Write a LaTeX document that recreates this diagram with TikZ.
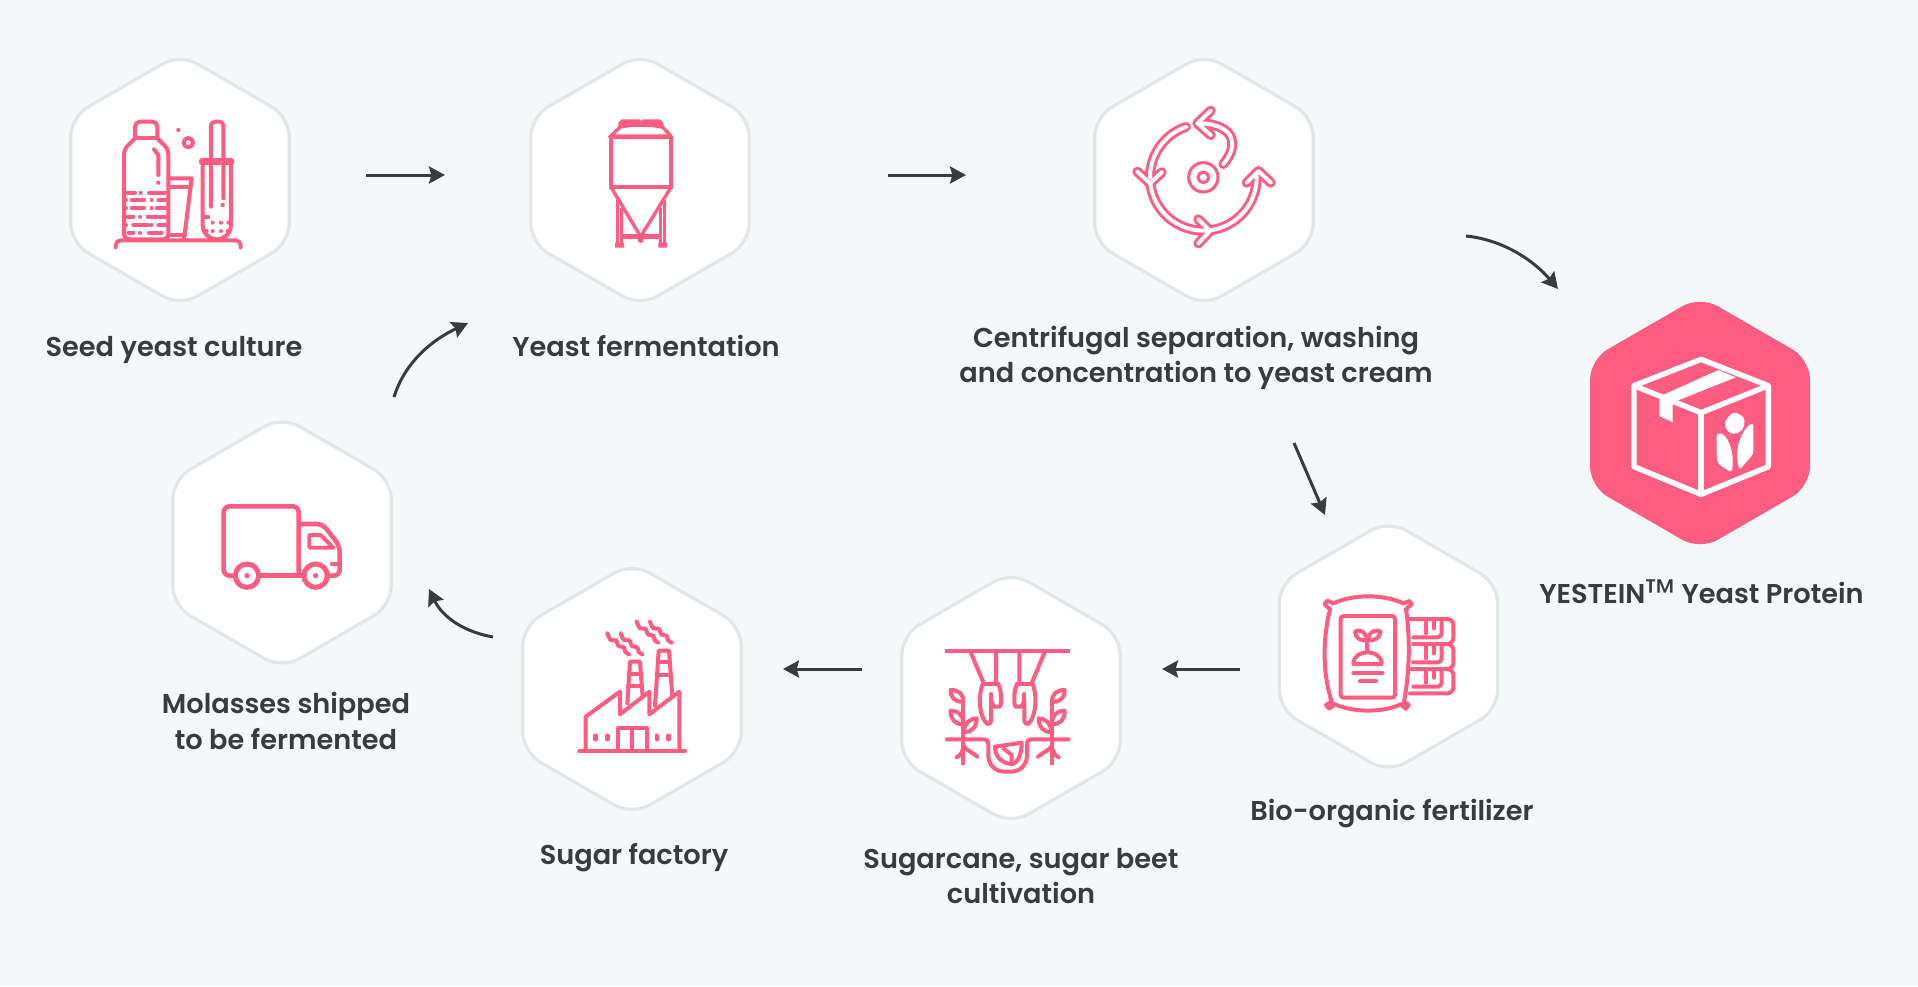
\documentclass[tikz,border=0pt]{standalone}
\usepackage{fontspec}
\setmainfont{Poppins SemiBold}
\newfontfamily\tmfont{Poppins}
\usetikzlibrary{shapes.geometric,arrows.meta}
\definecolor{bgc}{HTML}{F5F8F9}
\definecolor{hexl}{HTML}{E2E6E7}
\definecolor{rosa}{HTML}{FF5C82}
\definecolor{ink}{HTML}{3A3B3D}
\tikzset{
  x=0.5pt,y=-0.5pt,
  hexa/.style={regular polygon,regular polygon sides=6,shape border rotate=30,inner sep=0pt,outer sep=0pt,rounded corners=10pt},
  hexw/.style={hexa,minimum size=126.2pt,draw=hexl,fill=white,line width=1.6pt},
  hexp/.style={hexa,minimum size=127pt,fill=rosa},
  lab/.style={font=\fontsize{13.6pt}{17.6pt}\selectfont,text=ink,align=center,inner sep=0pt},
  flow/.style={draw=ink,line width=1.5pt,-{Stealth[length=8pt,width=8.5pt,inset=1.2pt]}},
  ic/.style={draw=rosa,line width=2pt,line cap=round,line join=round},
  icb/.style={draw=rosa,line width=2pt,line cap=butt,line join=miter},
}
\newcommand{\pdot}[3]{\fill[rosa] (#1,#2) circle (#3);}
\begin{document}
\begin{tikzpicture}
\useasboundingbox (0,0) rectangle (1918,986);
\fill[bgc] (0,0) rectangle (1918,986);
% hexagons
\node[hexw] (h1) at (180,180) {};
\node[hexw] (h2) at (640,180) {};
\node[hexw] (h3) at (1204,180) {};
\node[hexp] (h4) at (1700,423) {};
\node[hexw] (h5) at (1388.5,646.5) {};
\node[hexw] (h6) at (1011,698) {};
\node[hexw] (h7) at (632,689) {};
\node[hexw] (h8) at (282,542.5) {};
% labels
\node[lab] (t1) at (174,349.7) {Seed yeast culture};
\node[lab] (t2) at (646,346) {Yeast fermentation};
\node[lab] (t3) at (1196,357.5) {Centrifugal separation, washing\\and concentration to yeast cream};
\node[lab] (t4) at (1701.5,593) {YESTEIN{\raisebox{-1.4pt}{\tmfont\fontsize{19pt}{19pt}\selectfont ™}} Yeast Protein};
\node[lab] (t5) at (1392,813.7) {Bio-organic fertilizer};
\node[lab] (t6) at (1021,876) {Sugarcane, sugar beet\\cultivation};
\node[lab] (t7) at (634,857.7) {Sugar factory};
\node[lab] (t8) at (286,721) {Molasses shipped\\to be fermented};
% connectors
\coordinate (a1s) at (366,175); \coordinate (a1e) at (445,175);
\coordinate (a2s) at (888,175); \coordinate (a2e) at (966,175);
\coordinate (a3s) at (1466,236); \coordinate (a3e) at (1558,289);
\coordinate (a4s) at (1294,443); \coordinate (a4e) at (1325,515);
\coordinate (a5s) at (1240,669); \coordinate (a5e) at (1162,669);
\coordinate (a6s) at (862,669); \coordinate (a6e) at (783,669);
\coordinate (a7s) at (493,637); \coordinate (a7e) at (429,589);
\coordinate (a8s) at (394,397); \coordinate (a8e) at (468,323);
\draw[flow] (a1s) -- (a1e);
\draw[flow] (a2s) -- (a2e);
\draw[flow] (a3s) .. controls (1505,240) and (1535,262) .. (a3e);
\draw[flow] (a4s) -- (a4e);
\draw[flow] (a5s) -- (a5e);
\draw[flow] (a6s) -- (a6e);
\draw[flow] (a7s) .. controls (465,632) and (443,618) .. (a7e);
\draw[flow] (a8s) .. controls (405,362) and (432,340) .. (a8e);
% icon 1
\begin{scope}[shift={(50,40)},scale=1/3]
\draw[ic,rounded corners=2.5pt] (255,295) -- (255,245) -- (322,245) -- (322,295);
\draw[ic] (255,295) -- (322,295);
\draw[ic,rounded corners=2.5pt] (322,295) -- (355,328) -- (355,598) -- (222,598) -- (222,328) -- (255,295);
\draw[ic] (312,328) -- (325,345) -- (325,405);
\pdot{325}{428}{6.5}
\draw[ic] (232,458)--(255,458) (272,458)--(272.1,458) (297,458)--(345,458);
\draw[ic] (228,480)--(228.1,480) (245,480)--(282,480) (305,480)--(305.1,480) (325,480)--(350,480);
\draw[ic] (228,505)--(228.1,505) (245,505)--(282,505) (305,505)--(305.1,505) (320,505)--(350,505);
\draw[ic] (232,530)--(250,530) (270,530)--(270.1,530) (293,530)--(350,530);
\draw[ic] (228,555)--(228.1,555) (250,555)--(295,555) (305,555)--(305.1,555) (325,555)--(350,555);
\draw[ic] (235,578)--(250,578) (270,578)--(270.1,578) (297,578)--(335,578);
\pdot{385}{270}{6.5}
\draw[ic] (415,308) circle (14);
\draw[ic] (358,415) -- (425,415) -- (402,598);
\draw[ic] (358,440) -- (421,440);
\draw[ic] (358,585) -- (404,585);
\draw[ic,line width=3.2pt] (456,365) -- (544,365);
\draw[ic] (458,370) -- (458,555) .. controls (458,580) and (478,598) .. (500,598) .. controls (523,598) and (543,580) .. (543,555) -- (543,370);
\draw[ic,rounded corners=2pt] (483,500) -- (483,245) -- (520,245) -- (520,475);
\pdot{518}{495}{6.5}
\draw[ic] (465,532) -- (475,532);
\foreach \px/\py in {488/548,513/548,535/548,488/573,513/573,470/573,533/573}{\pdot{\px}{\py}{6}}
\draw[ic,rounded corners=2.5pt] (197,622) -- (197,601) -- (572,601) -- (572,622);
\end{scope}
% icon 2
\begin{scope}[shift={(510,40)},scale=1/3]
\fill[rosa] (325,262) -- (325,248) -- (335,238) -- (388,238) -- (393,243) -- (398,238) -- (450,238) -- (460,248) -- (462,268) .. controls (430,258) and (355,258) .. (325,268) -- cycle;
\draw[ic,line width=1.7pt] (302,288) -- (330,262) (483,288) -- (458,262);
\fill[rosa] (293,290) -- (302,283) -- (482,283) -- (491,290) -- (482,297) -- (302,297) -- cycle;
\draw[icb] (303,290) -- (303,440) (483,290) -- (483,440);
\fill[rosa] (298,434) -- (488,434) -- (488,448) -- (298,448) -- cycle;
\draw[ic,line width=1.7pt] (305,445) -- (392,590) -- (481,445);
\draw[icb,line width=1.7pt] (322,480) -- (322,612) (335,505) -- (335,612) (463,480) -- (463,612) (451,505) -- (451,612);
\fill[rosa] (335,582) -- (451,582) -- (451,598) -- (335,598) -- cycle;
\fill[rosa] (392,600) circle (9);
\fill[rosa] (315,608) rectangle (342,623) (445,608) rectangle (471,623);
\end{scope}
% icon 3
\begin{scope}[shift={(1080,40)},scale=1/3]
\foreach \wd/\cc in {5pt/rosa,2pt/white}{
 \draw[line width=\wd,color=\cc,line cap=round,line join=round] plot[domain=-109:-180,samples=25] ({370+160*cos(\x)},{412+160*sin(\x)}) (172,395) -- (210,430) -- (245,397);
 \draw[line width=\wd,color=\cc,line cap=round,line join=round] plot[domain=172:83,samples=30] ({370+160*cos(\x)},{412+160*sin(\x)}) (355,538) -- (390,573) -- (355,610);
 \draw[line width=\wd,color=\cc,line cap=round,line join=round] plot[domain=83:-5,samples=30] ({370+160*cos(\x)},{412+160*sin(\x)}) (500,428) -- (535,393) -- (572,428);
 \draw[line width=\wd,color=\cc,line cap=round,line join=round] (430,372) .. controls (475,320) and (470,255) .. (362,250) (392,212) -- (352,250) -- (392,285);
}
\draw[draw=rosa,line width=1.5pt] (370,412) circle (44);
\draw[draw=rosa,line width=1.5pt] (370,412) circle (16);
\end{scope}
% icon 4
\begin{scope}[shift={(1570,290)},scale=1/3]
\draw[white,line width=2.7pt,line join=round] (393,208) -- (595,287) -- (393,368) -- (192,287) -- cycle;
\draw[white,line width=2.7pt,line join=round] (192,287) -- (192,530) -- (393,613) -- (595,530) -- (595,287);
\draw[white,line width=2.7pt] (393,368) -- (393,613);
\fill[white] (272,318) -- (445,240) -- (497,262) -- (322,332) -- (308,345) -- (308,397) -- (268,378) -- (268,325) -- cycle;
\fill[white,rounded corners=2pt] (490,364) -- (525,382) -- (520,420) -- (490,435) -- (468,420) -- (463,395) -- cycle;
\fill[white,rounded corners=1.5pt] (440,430) .. controls (470,430) and (495,480) .. (485,548) -- (445,522) -- (440,505) -- cycle;
\fill[white,rounded corners=1.5pt] (550,398) .. controls (520,415) and (490,470) .. (508,540) -- (550,492) -- cycle;
\end{scope}
% icon 5
\begin{scope}[shift={(1270,520)},scale=1/3]
\draw[ic] (190,250) .. controls (250,222) and (340,222) .. (400,250) (408,268) .. controls (420,350) and (420,450) .. (402,545) (392,553) .. controls (340,578) and (250,578) .. (195,553) (185,545) .. controls (155,450) and (160,350) .. (180,268);
\draw[ic] (180,268) -- (163,252) -- (172,242) -- (190,250);
\draw[ic] (400,250) -- (418,243) -- (425,252) -- (408,268);
\draw[ic] (185,545) -- (168,555) -- (178,566) -- (195,553);
\draw[ic] (402,545) -- (416,555) -- (408,566) -- (392,553);
\draw[ic,rounded corners=1.5pt] (212,288) rectangle (375,533);
\draw[ic] (292,360) -- (292,395);
\draw[ic] (292,360) .. controls (285,330) and (265,328) .. (255,335) .. controls (255,355) and (275,365) .. (292,360);
\draw[ic] (292,360) .. controls (300,330) and (320,328) .. (332,335) .. controls (330,355) and (310,365) .. (292,360);
\draw[ic] (250,432) .. controls (250,385) and (335,385) .. (335,432) -- cycle;
\draw[ic] (250,458) -- (338,458) (270,484) -- (318,484);
\draw[ic,rounded corners=3pt] (422,297) -- (550,297) -- (550,372) -- (430,372);
\draw[ic,rounded corners=3pt] (535,372) -- (550,372) -- (550,447) -- (425,447);
\draw[ic,rounded corners=3pt] (535,447) -- (550,447) -- (550,520) -- (420,520);
\foreach \oy in {0,75,148}{
 \draw[ic,rounded corners=2pt] (430,{352+\oy}) -- (515,{352+\oy}) -- (515,{305+\oy});
 \draw[ic] (468,{305+\oy}) -- (468,{340+\oy}) (492,{305+\oy}) -- (492,{325+\oy});
}
\end{scope}
% icon 6
\begin{scope}[shift={(890,570)},scale=1/3]
\draw[icb] (166,242) -- (540,242);
\foreach \mir/\sh in {1/0,-1/706}{
\begin{scope}[shift={(\sh,0)},xscale=\mir]
\draw[icb] (240,242) -- (282,342) (318,242) -- (318,342);
\draw[ic] (278,342) -- (325,342);
\draw[ic] (278,342) .. controls (262,385) and (270,445) .. (292,462) .. controls (305,462) and (303,450) .. (303,440) -- (303,392);
\draw[ic] (325,342) .. controls (335,365) and (335,395) .. (330,410) -- (312,410) -- (303,392);
\draw[ic] (303,372) -- (303,392);
\draw[icb] (220,395) -- (220,585);
\draw[ic] (220,395) .. controls (220,370) and (205,360) .. (182,360) .. controls (180,380) and (195,398) .. (220,395);
\draw[ic] (220,462) .. controls (220,435) and (205,422) .. (182,422) .. controls (180,445) and (195,465) .. (220,462);
\draw[ic] (220,485) .. controls (225,460) and (240,445) .. (260,445) .. controls (260,470) and (245,490) .. (220,485);
\draw[ic] (200,562) .. controls (215,555) and (220,540) .. (220,525) .. controls (225,540) and (245,545) .. (262,560);
\draw[icb] (166,508) -- (280,508) .. controls (290,508) and (295,513) .. (295,523) -- (295,555) .. controls (295,585) and (315,605) .. (345,605) -- (354,605);
\end{scope}}
\draw[ic] (315,530) -- (395,518) .. controls (395,550) and (385,580) .. (365,582) .. controls (340,580) and (315,565) .. (315,530);
\draw[ic] (340,535) -- (365,555) -- (365,582);
\end{scope}
% icon 7
\begin{scope}[shift={(515,560)},scale=1/3]
\draw[ic] (193,573) -- (510,573);
\draw[ic] (212,573) -- (212,470) -- (315,395) -- (315,463) -- (403,395) -- (403,463) -- (493,395) -- (493,573);
\draw[ic] (310,573) -- (310,505) -- (395,505) -- (395,573) (352,505) -- (352,573);
\draw[ic,line width=2.2pt] (242,527) -- (242,538) (277,527) -- (277,538) (426,527) -- (426,538) (461,527) -- (461,538);
\draw[ic] (337,430) -- (345,305) -- (375,305) -- (383,412);
\draw[ic] (341,342) -- (378,342) (339,377) -- (381,377);
\draw[ic] (420,437) -- (431,272) -- (462,272) -- (472,410);
\draw[ic] (428,307) -- (465,307) (425,345) -- (468,345);
\foreach \sx/\sy in {277/220,317/220,365/185,405/185}{
 \draw[ic] plot[smooth] coordinates {(\sx,\sy) ({\sx+10},{\sy+20}) ({\sx+27},{\sy+21}) ({\sx+33},{\sy+38}) ({\sx+50},{\sy+42}) ({\sx+54},{\sy+56}) ({\sx+65},{\sy+63})};
}
\end{scope}
% icon 8
\begin{scope}[shift={(160,415)},scale=1/3]
\draw[ic,line width=2.3pt,rounded corners=3pt] (218,482) -- (191,482) -- (191,274) -- (416,274) -- (416,482);
\draw[ic,line width=2.3pt] (305,482) -- (425,482);
\draw[ic,line width=2.3pt,rounded corners=3pt] (418,327) -- (488,327) -- (539,393) -- (539,482) -- (510,482);
\draw[ic,line width=1.9pt] (448,360) -- (482,360) -- (520,398) -- (448,398) -- cycle;
\draw[ic,line width=1.9pt] (515,447) -- (538,447);
\draw[draw=rosa,fill=white,line width=2.5pt] (261,482) circle (35);
\draw[draw=rosa,fill=white,line width=2.5pt] (467,482) circle (35);
\pdot{261}{482}{8}
\pdot{467}{482}{8}
\end{scope}
\end{tikzpicture}
\end{document}
